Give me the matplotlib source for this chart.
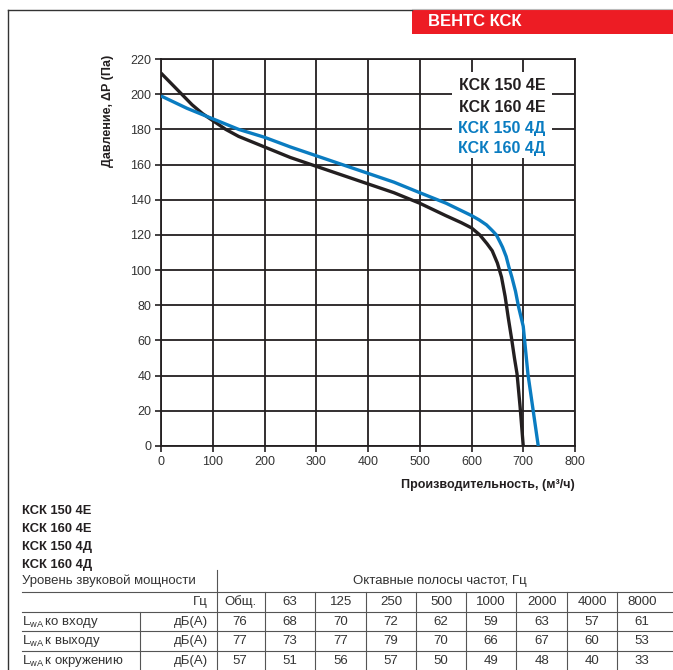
import matplotlib
matplotlib.use("Agg")
import matplotlib.pyplot as plt
from matplotlib.lines import Line2D
from matplotlib.patches import Rectangle

plt.rcParams['font.family'] = ['Liberation Sans', 'DejaVu Sans']
plt.rcParams['mathtext.fontset'] = 'custom'
plt.rcParams['mathtext.rm'] = 'Liberation Sans'
plt.rcParams['mathtext.it'] = 'Liberation Sans'

# ---- data ----
flow_e = [0, 20, 40, 60, 80, 100, 125, 150, 175, 200, 250, 300, 350, 400, 450, 500, 550, 580,
          600, 616, 630, 640, 650, 658, 665, 671, 678, 683, 688, 694, 700]
pres_e = [212, 206, 200, 194, 189, 185, 180, 176, 173, 170, 164, 159, 154, 149, 144, 138, 131, 127,
          124, 120, 115, 111, 104, 96, 85, 73, 60, 50, 41, 22, 0]
flow_d = [0, 50, 100, 150, 200, 250, 300, 350, 400, 450, 500, 551, 600, 615, 629, 640, 648, 655,
          660, 667, 672, 678, 685, 691, 700, 709, 719, 729]
pres_d = [199, 192, 186, 180, 175.5, 170, 165, 160, 155, 150, 144, 138, 131, 128.5, 125.7, 122.5, 120, 116,
          113, 107.7, 102, 96, 88, 79, 68, 41, 20.5, 0]

x_ticks = [0, 100, 200, 300, 400, 500, 600, 700, 800]
y_ticks = [0, 20, 40, 60, 80, 100, 120, 140, 160, 180, 200, 220]

models = ["КСК 150 4Е", "КСК 160 4Е", "КСК 150 4Д", "КСК 160 4Д"]
model_colors = ["#231f20", "#231f20", "#0a7cc1", "#0a7cc1"]

bands = ["Общ.", "63", "125", "250", "500", "1000", "2000", "4000", "8000"]
row_labels = ["ко входу", "к выходу", "к окружению"]
lwa_inlet = [76, 68, 70, 72, 62, 59, 63, 57, 61]
lwa_outlet = [77, 73, 77, 79, 70, 66, 67, 60, 53]
lwa_around = [57, 51, 56, 57, 50, 49, 48, 40, 33]

W, H = 673, 670
fig = plt.figure(figsize=(W / 100, H / 100), dpi=100)

def fx(x):
    return x / W

def fy(y):
    return 1 - y / H

# ---- axes ----
ax = fig.add_axes([fx(161), fy(446), fx(575) - fx(161), fy(59) - fy(446)])
black = "#231f20"
blue = "#0a7cc1"
ax.plot(flow_e, pres_e, color=black, lw=2.4, solid_capstyle='butt', solid_joinstyle='round', zorder=4)
ax.plot(flow_d, pres_d, color=blue, lw=2.4, solid_capstyle='butt', solid_joinstyle='round', zorder=4)
ax.set_xlim(0, 800)
ax.set_ylim(0, 220)
ax.set_xticks(x_ticks)
ax.set_yticks(y_ticks)
ax.grid(True, color=black, lw=1.3, zorder=1)
for s in ax.spines.values():
    s.set_color(black)
    s.set_linewidth(1.3)
ax.tick_params(direction='out', length=4, width=1.2, color=black,
               labelsize=9, labelcolor="#333333", pad=3)

# legend box (white, covering grid)
ax.add_patch(Rectangle((fx(452), fy(158)), fx(552) - fx(452), fy(72) - fy(158),
                       transform=fig.transFigure, facecolor='white', edgecolor='none', zorder=2))
for i, (m, c) in enumerate(zip(models, model_colors)):
    fig.text(fx(502), fy(86 + 21 * i), m, color=c, fontsize=11.5, fontweight='bold',
             ha='center', va='center', zorder=5)

fig.text(fx(575), fy(485), "Производительность, (м³/ч)", fontsize=9, fontweight='bold',
         ha='right', va='center', color=black)
fig.text(fx(108), fy(55), "Давление, ΔP (Па)", fontsize=9, fontweight='bold',
         rotation=90, ha='center', va='top', color=black)

# ---- frame and banner ----
fig.add_artist(Line2D([fx(8), fx(8)], [fy(10), fy(670)], color="#333333", lw=1.0))
fig.add_artist(Line2D([fx(8), fx(412)], [fy(10), fy(10)], color="#333333", lw=1.0))
fig.add_artist(Line2D([fx(412), fx(673)], [fy(9), fy(9)], color="#bbbbbb", lw=0.8))
fig.add_artist(Rectangle((fx(412), fy(34)), fx(673) - fx(412), fy(10) - fy(34),
                         transform=fig.transFigure, facecolor="#ed1c24", edgecolor='none'))
fig.text(fx(428), fy(22), "ВЕНТС КСК", color='white', fontsize=12, fontweight='bold',
         ha='left', va='center')

# ---- model list ----
for i, m in enumerate(models):
    fig.text(fx(22), fy(511 + 18 * i), m, fontsize=9.3, fontweight='bold',
             ha='left', va='center', color=black)

# ---- table ----
tc = "#333333"
fs = 9.5
fig.text(fx(22), fy(581), "Уровень звуковой мощности", fontsize=fs, ha='left', va='center', color=tc)
fig.text(fx(440), fy(581), "Октавные полосы частот, Гц", fontsize=fs, ha='center', va='center', color=tc)
fig.text(fx(208), fy(602), "Гц", fontsize=fs, ha='right', va='center', color=tc)

col_centers = [240, 290, 341, 391, 441, 491, 542, 592, 642]
dividers = [265, 315, 366, 416, 466, 516, 567, 617]
row_y = [622, 641, 661]
for cx, b in zip(col_centers, bands):
    fig.text(fx(cx), fy(602), b, fontsize=fs, ha='center', va='center', color=tc)

rows = [lwa_inlet, lwa_outlet, lwa_around]
for ry, lab, vals in zip(row_y, row_labels, rows):
    fig.text(fx(22), fy(ry), r"L$_{\mathrm{wA}}\,$" + lab, fontsize=fs, ha='left', va='center', color=tc)
    fig.text(fx(208), fy(ry), "дБ(А)", fontsize=fs, ha='right', va='center', color=tc)
    for cx, v in zip(col_centers, vals):
        fig.text(fx(cx), fy(ry), str(v), fontsize=fs, ha='center', va='center', color=tc)

line_c = "#555555"
for yy in [592, 612, 631, 651]:
    fig.add_artist(Line2D([fx(22), fx(673)], [fy(yy), fy(yy)], color=line_c, lw=0.8))
fig.add_artist(Line2D([fx(217), fx(217)], [fy(570), fy(670)], color=line_c, lw=0.8))
fig.add_artist(Line2D([fx(140), fx(140)], [fy(612), fy(670)], color=line_c, lw=0.8))
for d in dividers:
    fig.add_artist(Line2D([fx(d), fx(d)], [fy(592), fy(670)], color=line_c, lw=0.8))

fig.savefig("out.png", dpi=100)
